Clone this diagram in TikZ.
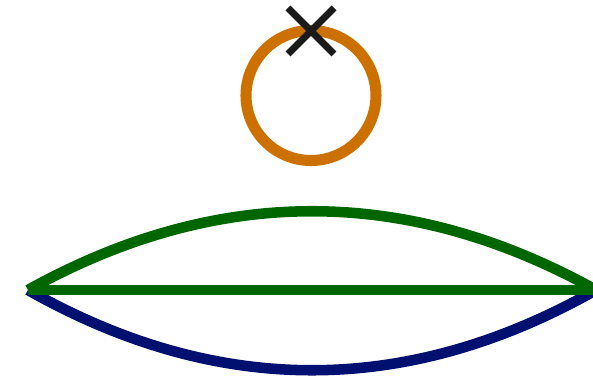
\documentclass[tikz,border=0pt]{standalone}
\usetikzlibrary{positioning, calc}
\definecolor{loopc}{HTML}{CC7000}
\definecolor{greenc}{HTML}{006600}
\definecolor{bluec}{HTML}{001070}
\definecolor{crossc}{HTML}{1A1A1A}

\begin{document}
\begin{tikzpicture}[
    x=0.02cm, y=-0.02cm,
    prop/.style={line width=6pt},
    tadpole/.style={draw=loopc, circle, line width=6.3pt, minimum size=2.6cm, inner sep=0pt},
    insertion/.style={draw=crossc, line width=3.9pt}
  ]
  \useasboundingbox (0,0) rectangle (593,378);

  \node[tadpole] (loop) at (311,95.5) {};
  \coordinate (vtx) at (311,31);
  \draw[insertion] ($(vtx)+(-23,-23)$) -- ($(vtx)+(23,23)$);
  \draw[insertion] ($(vtx)+(-23,23)$) -- ($(vtx)+(23,-23)$);

  \coordinate (left) at (28,290);
  \coordinate (right) at (596,290);

  \draw[prop, bluec] (left) .. controls (217,397) and (407,397) .. (right);
  \draw[prop, greenc] (left) .. controls (217,185) and (407,185) .. (right);
  \draw[prop, greenc] (left) -- (right);
\end{tikzpicture}
\end{document}
